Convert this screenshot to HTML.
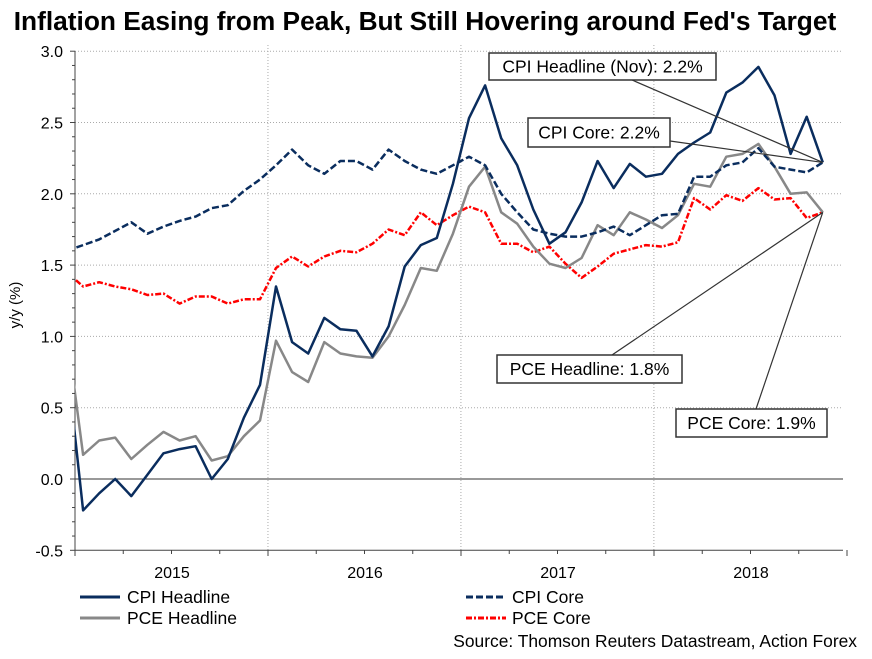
<!DOCTYPE html>
<html><head><meta charset="utf-8"><style>
body{margin:0;background:#fff;font-family:"Liberation Sans",sans-serif}
svg text{font-family:"Liberation Sans",sans-serif}
</style></head><body>
<svg id="c" width="872" height="654" xmlns="http://www.w3.org/2000/svg">
<text x="425" y="30" text-anchor="middle" font-size="26.3" font-weight="bold" fill="#000">Inflation Easing from Peak, But Still Hovering around Fed's Target</text>
<text transform="translate(20,305) rotate(-90)" text-anchor="middle" font-size="15">y/y (%)</text>
<defs><clipPath id="clip"><rect x="75" y="40" width="770" height="512"/></clipPath></defs>
<g id="grid"></g><g id="axes"></g><g id="series" clip-path="url(#clip)"></g><g id="ann"></g>
<g>
<line x1="80" y1="597" x2="120" y2="597" stroke="#0a2d5e" stroke-width="3"/>
<text x="127" y="603" font-size="17.5">CPI Headline</text>
<line x1="80" y1="618" x2="120" y2="618" stroke="#888" stroke-width="3"/>
<text x="127" y="624" font-size="17.5">PCE Headline</text>
<line x1="466" y1="597" x2="506" y2="597" stroke="#0a2d5e" stroke-width="3" stroke-dasharray="7,3"/>
<text x="512" y="603" font-size="17.5">CPI Core</text>
<line x1="466" y1="618" x2="506" y2="618" stroke="#f00" stroke-width="3" stroke-dasharray="6,2,2,2"/>
<text x="512" y="624" font-size="17.5">PCE Core</text>
</g>
<text x="857" y="647" text-anchor="end" font-size="17.4">Source: Thomson Reuters Datastream, Action Forex</text>
</svg>
<script>
const months=["Dec14","Jan15","Feb15","Mar15","Apr15","May15","Jun15","Jul15","Aug15","Sep15","Oct15","Nov15","Dec15","Jan16","Feb16","Mar16","Apr16","May16","Jun16","Jul16","Aug16","Sep16","Oct16","Nov16","Dec16","Jan17","Feb17","Mar17","Apr17","May17","Jun17","Jul17","Aug17","Sep17","Oct17","Nov17","Dec17","Jan18","Feb18","Mar18","Apr18","May18","Jun18","Jul18","Aug18","Sep18","Oct18","Nov18"];
const cpiHeadline=[0.82,-0.22,-0.1,0,-0.12,0.03,0.18,0.21,0.23,0,0.14,0.43,0.66,1.35,0.96,0.88,1.13,1.05,1.04,0.86,1.07,1.49,1.64,1.69,2.07,2.53,2.76,2.39,2.2,1.89,1.65,1.73,1.94,2.23,2.04,2.21,2.12,2.14,2.28,2.36,2.43,2.71,2.78,2.89,2.69,2.28,2.54,2.22];
const cpiCore=[1.6,1.64,1.68,1.74,1.8,1.72,1.77,1.81,1.84,1.9,1.92,2.02,2.1,2.2,2.31,2.2,2.14,2.23,2.23,2.17,2.31,2.23,2.17,2.14,2.2,2.26,2.2,2.0,1.87,1.75,1.72,1.7,1.7,1.73,1.77,1.71,1.78,1.85,1.86,2.12,2.12,2.2,2.22,2.32,2.19,2.17,2.15,2.22];
const pceHeadline=[1.03,0.17,0.27,0.29,0.14,0.24,0.33,0.27,0.3,0.13,0.16,0.3,0.41,0.97,0.75,0.68,0.96,0.88,0.86,0.85,1.0,1.22,1.48,1.46,1.72,2.05,2.19,1.87,1.79,1.63,1.51,1.48,1.55,1.78,1.71,1.87,1.82,1.76,1.85,2.07,2.05,2.26,2.28,2.35,2.19,2.0,2.01,1.87];
const pceCore=[1.45,1.35,1.38,1.35,1.33,1.29,1.3,1.23,1.28,1.28,1.23,1.26,1.26,1.48,1.56,1.49,1.56,1.6,1.59,1.65,1.75,1.71,1.87,1.78,1.85,1.91,1.87,1.65,1.65,1.59,1.63,1.51,1.41,1.49,1.58,1.61,1.64,1.63,1.66,1.97,1.89,1.99,1.95,2.04,1.96,1.97,1.83,1.87];
const yTicks=[-0.5,0,0.5,1,1.5,2,2.5,3];
const yearLabels=["2015","2016","2017","2018"];
const NS="http://www.w3.org/2000/svg";
function X(i){return 67+i*16.08;}
function Y(v){return 479-v*142.6;}
function mk(tag,attrs,parent){const e=document.createElementNS(NS,tag);for(const k in attrs)e.setAttribute(k,attrs[k]);document.getElementById(parent).appendChild(e);return e;}
yTicks.forEach(v=>{
  if(v===0||v===-0.5)return;
  const g=mk('line',{x1:75,x2:843,y1:Y(v),y2:Y(v),stroke:'#aaa','stroke-dasharray':'1,2'},'grid');
  
  
});
for(let k=1;k<4;k++){
  const gx=X(0)+8+12*k*16.08;
  const g=mk('line',{x1:gx,x2:gx,y1:45,y2:550,stroke:'#aaa','stroke-dasharray':'1,2'},'grid');
  
  
}
const z=mk('line',{x1:75,x2:843,y1:Y(0),y2:Y(0),stroke:'#333','stroke-width':1},'axes');


const ya=mk('line',{x1:75,x2:75,y1:Y(3),y2:Y(-0.5),stroke:'#444'},'axes');


const xa=mk('line',{x1:75,x2:843,y1:Y(-0.5),y2:Y(-0.5),stroke:'#444'},'axes');


for(let t=-5;t<=30;t++){
  const v=t/10;const len=(t%5===0)?5:3;
  mk('line',{x1:75-len,x2:75,y1:Y(v),y2:Y(v),stroke:'#444'},'axes');
}
yTicks.forEach(v=>{
  const t=mk('text',{x:63,y:Y(v)+6,'text-anchor':'end','font-size':16},'axes');
  t.textContent=v.toFixed(1);
  
  
});
for(let q=0;q<=16;q++){
  const tx=75+q*48.25;const len=(q%4===0)?6:4;
  mk('line',{x1:tx,x2:tx,y1:550,y2:550+len,stroke:'#444'},'axes');
}
yearLabels.forEach((y,k)=>{
  const t=mk('text',{x:75+97+k*193,y:578,'text-anchor':'middle','font-size':16},'axes');
  t.textContent=y;
  
  
});
function line(arr,attrs,name){
  const d=arr.map((v,i)=>(i?'L':'M')+X(i).toFixed(1)+','+Y(v).toFixed(1)).join('');
  const p=mk('path',Object.assign({d:d,fill:'none','stroke-linejoin':'round'},attrs),'series');
  
  
}
line(pceCore,{stroke:'#f00','stroke-width':2.5,'stroke-dasharray':'6,2,2,2'},'pce-core-line');
line(pceHeadline,{stroke:'#888','stroke-width':2.5},'pce-headline-line');
line(cpiCore,{stroke:'#0a2d5e','stroke-width':2.5,'stroke-dasharray':'7,3'},'cpi-core-line');
line(cpiHeadline,{stroke:'#0a2d5e','stroke-width':2.5},'cpi-headline-line');
const lastI=months.length-1;
function ann(label,bx,by,bw,bh,lx,ly,val,name){
  const l=mk('line',{x1:lx,y1:ly,x2:X(lastI),y2:Y(val),stroke:'#333','stroke-width':1.2},'ann');
  
  
  const r=mk('rect',{x:bx,y:by,width:bw,height:bh,fill:'#fff',stroke:'#333','stroke-width':1.5},'ann');
  
  
  const t=mk('text',{x:bx+bw/2,y:by+bh/2+6,'text-anchor':'middle','font-size':17.5},'ann');
  t.textContent=label;
  
  
}
ann('CPI Headline (Nov): 2.2%',489,53,227,27,632,80,cpiHeadline[lastI],'cpi-headline-annotation');
ann('CPI Core: 2.2%',528,118,142,29,670,141,cpiCore[lastI],'cpi-core-annotation');
ann('PCE Headline: 1.8%',497,355,185,28,612,355,pceHeadline[lastI],'pce-headline-annotation');
ann('PCE Core: 1.9%',676,409,151,28,756,409,pceCore[lastI],'pce-core-annotation');
</script>
</body></html>
